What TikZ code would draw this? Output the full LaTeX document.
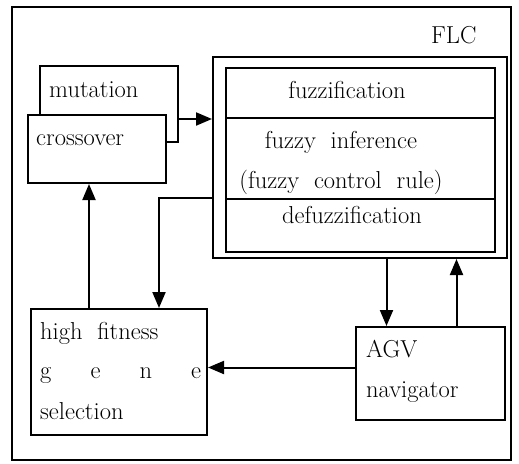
\documentclass[tikz,border=0pt]{standalone}
\usepackage{tikz}
\usetikzlibrary{arrows.meta}
\tikzset{>={Triangle[length=16pt,width=13pt]}}
\tikzset{
  box/.style={draw, line width=2pt, fill=white, rectangle, inner sep=0pt},
  txt/.style={anchor=base west, inner sep=0pt, font=\fontsize{24.5}{24.5}\selectfont},
  ctxt/.style={anchor=base, inner sep=0pt, font=\fontsize{24.5}{24.5}\selectfont},
  link/.style={->, line width=2pt},
}

\begin{document}
\begin{tikzpicture}[x=1pt, y=-1pt]
      \useasboundingbox (0,0) rectangle (519,463);
      \draw[line width=1.4pt] (12,7) rectangle (511,460);
      % FLC block
      \node (flcname) at (431,43) [txt] {FLC};
      \node (flc) at (360,157.5) [box, minimum width=294pt, minimum height=201pt] {};
      \node (fuzz) at (360.5,93) [box, minimum width=269pt, minimum height=50pt] {};
      \node (infer) at (360.5,158.5) [box, minimum width=269pt, minimum height=81pt] {};
      \node (defuzz) at (360.5,225.5) [box, minimum width=269pt, minimum height=53pt] {};
      \node (fuzztxt) at (347,98) [ctxt] {fuzzification};
      \node (infertxt) at (341,148) [ctxt] {fuzzy\ \ inference};
      \node (ruletxt) at (341,188) [ctxt] {(fuzzy\ \ control\ \ rule)};
      \node (defuzztxt) at (352,223) [ctxt] {defuzzification};
      % genetic operators
      \node (mut) at (109,104) [box, minimum width=138pt, minimum height=76pt] {};
      \node (mutxt) at (49,97) [txt] {mutation};
      \node (cross) at (97,149) [box, minimum width=138pt, minimum height=68pt] {};
      \node (crosstxt) at (36,145) [txt] {crossover};
      % selection
      \node (sel) at (119,372) [box, minimum width=176pt, minimum height=126pt] {};
      \node (seltxta) at (40,339) [txt] {high\ \ fitness};
      \node (seltxtb) at (40,378) [txt] {\makebox[161pt][s]{g\hfill e\hfill n\hfill e}};
      \node (seltxtc) at (40,419) [txt] {selection};
      % AGV
      \node (agv) at (430.5,373.5) [box, minimum width=149pt, minimum height=93pt] {};
      \node (agvtxta) at (366,357) [txt] {AGV};
      \node (agvtxtb) at (366,397) [txt] {navigator};
      % connections
      \draw[link] (mut.east |- fuzz.south) -- (flc.west |- fuzz.south);
      \draw[link] (flc.west |- defuzz.north) -| ([xshift=40pt]sel.north);
      \draw[link] ([xshift=-30pt]sel.north) -- ([xshift=-30pt]sel.north |- cross.south);
      \draw[link] ([xshift=-44pt]agv.north |- flc.south) -- ([xshift=-44pt]agv.north);
      \draw[link] ([xshift=26pt]agv.north) -- ([xshift=26pt]agv.north |- flc.south);
      \draw[link] ([yshift=6pt]agv.west) -- ([yshift=6pt]agv.west -| sel.east);
\end{tikzpicture}
\end{document}
